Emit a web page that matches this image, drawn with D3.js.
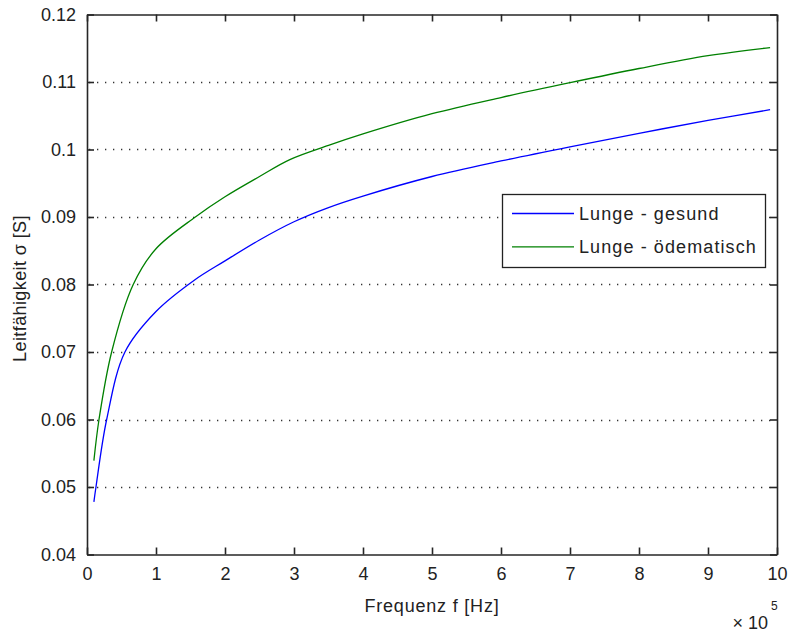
<!DOCTYPE html>
<html><head><meta charset="utf-8">
<script src="https://cdn.jsdelivr.net/npm/d3@7"></script>
<style>
body{margin:0;background:#fff;}
svg text{font-family:"Liberation Sans",Arial,Helvetica,sans-serif;fill:#222;}
</style></head>
<body><svg id="c" width="788" height="633"></svg>
<script>
// frequency in units of 1e5 Hz
const freqGesund = [0.1, 0.13, 0.285, 0.55, 1.0, 1.55, 2.0, 2.5, 3.0, 3.5, 4.0, 5.0, 6.0, 7.0, 8.0, 9.0, 9.9];
const sigmaGesund = [0.0478, 0.0500, 0.0600, 0.0700, 0.0760, 0.0806, 0.0835, 0.0866, 0.0893, 0.0914, 0.0931, 0.0960, 0.0983, 0.1004, 0.1024, 0.1043, 0.1059];
const freqOedem = [0.1, 0.174, 0.357, 0.67, 1.0, 1.57, 2.0, 2.5, 2.94, 3.5, 4.0, 5.0, 6.0, 7.0, 8.0, 9.0, 9.9];
const sigmaOedem = [0.0539, 0.0600, 0.0700, 0.0800, 0.0853, 0.0900, 0.0930, 0.0960, 0.0985, 0.1006, 0.1023, 0.1053, 0.1077, 0.1099, 0.1120, 0.1139, 0.1151];
const xTicks = [0,1,2,3,4,5,6,7,8,9,10];
const yTicks = [0.04,0.05,0.06,0.07,0.08,0.09,0.10,0.11,0.12];
const yTickLabels = ["0.04","0.05","0.06","0.07","0.08","0.09","0.1","0.11","0.12"];
const seriesNames = ["Lunge - gesund","Lunge - ödematisch"];
const seriesColors = ["#0000ff","#008000"];

const L=87, R=777, T=14.5, B=554.5;
const svg = d3.select("#c");
const x = d3.scaleLinear().domain([0,10]).range([L,R]);
const y = d3.scaleLinear().domain([0.04,0.12]).range([B,T]);

// grid (horizontal dotted)
svg.append("g").selectAll("line").data(yTicks.filter(v=>v>0.0401 && v<0.1199)).join("line")
  .attr("x1",L+2).attr("x2",R-2).attr("y1",d=>Math.round(y(d))+0.5).attr("y2",d=>Math.round(y(d))+0.5)
  .attr("stroke","#333").attr("stroke-width",1.3).attr("stroke-dasharray","1.3,6.7");

// series
const series = [
  {name:seriesNames[0], color:seriesColors[0], xs:freqGesund, ys:sigmaGesund},
  {name:seriesNames[1], color:seriesColors[1], xs:freqOedem, ys:sigmaOedem}
];
const line = d3.line().x(d=>x(d[0])).y(d=>y(d[1])).curve(d3.curveCatmullRom.alpha(0.5));
series.forEach(s=>{
  svg.append("path").datum(s.xs.map((v,i)=>[v,s.ys[i]]))
    .attr("d",line).attr("fill","none").attr("stroke",s.color).attr("stroke-width",1.3);
});

// axes (MATLAB box style, ticks inside)
const tl = 7;
const axB = svg.append("g").attr("transform",`translate(0,${B})`)
  .call(d3.axisBottom(x).tickValues(xTicks).tickSizeInner(-tl).tickSizeOuter(0).tickPadding(13).tickFormat(d3.format("d")));
const axT = svg.append("g").attr("transform",`translate(0,${T})`)
  .call(d3.axisTop(x).tickValues(xTicks).tickSizeInner(-tl).tickSizeOuter(0).tickFormat(""));
const axL = svg.append("g").attr("transform",`translate(${L},0)`)
  .call(d3.axisLeft(y).tickValues(yTicks).tickSizeInner(-tl).tickSizeOuter(0).tickPadding(11).tickFormat((d,i)=>yTickLabels[i]));
const axR = svg.append("g").attr("transform",`translate(${R},0)`)
  .call(d3.axisRight(y).tickValues(yTicks).tickSizeInner(-tl).tickSizeOuter(0).tickFormat(""));
[axB,axT,axL,axR].forEach(a=>{
  a.selectAll(".domain").attr("stroke","#262626").attr("stroke-width",1.6);
  a.selectAll(".tick line").attr("stroke","#262626").attr("stroke-width",1.6);
  a.selectAll("text").attr("font-size",18).attr("fill","#222").attr("font-family",null);
});

// exponent label
svg.append("text").attr("x",768).attr("y",629).attr("text-anchor","end").attr("font-size",18).text("× 10");
svg.append("text").attr("x",771).attr("y",610).attr("font-size",12).text("5");

// axis labels
svg.append("text").attr("x",(L+R)/2).attr("y",612).attr("text-anchor","middle").attr("font-size",18)
  .attr("letter-spacing","0.8px").text("Frequenz f [Hz]");
svg.append("text").attr("transform",`translate(26,${(T+B)/2+4}) rotate(-90)`).attr("text-anchor","middle").attr("font-size",18)
  .attr("letter-spacing","0.4px").text("Leitfähigkeit σ [S]");

// legend
const lg = svg.append("g");
lg.append("rect").attr("x",502.5).attr("y",194.5).attr("width",263).attr("height",73)
  .attr("fill","#fff").attr("stroke","#222").attr("stroke-width",1.3);
series.forEach((s,i)=>{
  const yy = 213.5 + i*33.3;
  lg.append("line").attr("x1",512).attr("x2",574).attr("y1",yy).attr("y2",yy).attr("stroke",s.color).attr("stroke-width",1.3);
  lg.append("text").attr("x",579).attr("y",yy+6.5).attr("font-size",18).attr("letter-spacing","1.1px").text(s.name);
});
</script></body></html>
